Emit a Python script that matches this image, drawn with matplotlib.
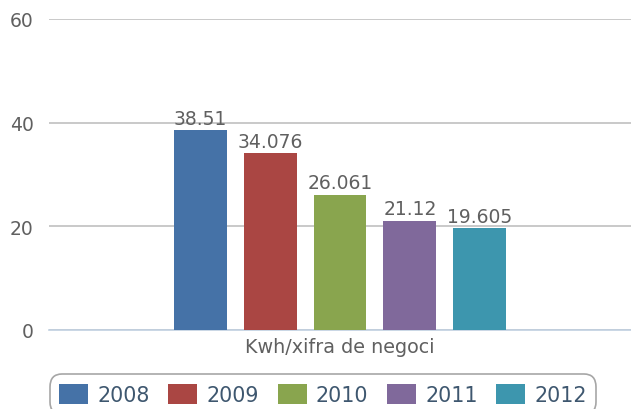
import matplotlib.pyplot as plt
from matplotlib.patches import Patch

plt.rcParams["font.family"] = ["DejaVu Sans"]

years = ["2008", "2009", "2010", "2011", "2012"]
values = [38.51, 34.076, 26.061, 21.12, 19.605]
colors = ["#4572A7", "#AA4643", "#89A54E", "#80699B", "#3D96AE"]
category = "Kwh/xifra de negoci"

fig = plt.figure(figsize=(6.31, 4.10), dpi=100)
ax = fig.add_axes([49 / 631, 1 - 331 / 410, 1 - 49 / 631, (331 - 20) / 410])

slot = 0.12
width = 0.091
n = len(years)
for i, (yr, v, c) in enumerate(zip(years, values, colors)):
    xpos = (i - (n - 1) / 2) * slot
    ax.bar(xpos, v, width=width, color=c, label=yr, zorder=3)
    ax.annotate(f"{v:g}", (xpos, v), xytext=(0, 2), textcoords="offset points",
                ha="center", va="bottom", fontsize=13.5, color="#606060", zorder=4)

ax.set_xlim(-0.5, 0.5)
ax.set_ylim(0, 60)
ax.set_yticks([0, 20, 40, 60])
ax.set_xticks([0])
ax.set_xticklabels([category])
ax.tick_params(axis="x", length=0, pad=5, labelsize=13.8, labelcolor="#606060")
ax.tick_params(axis="y", length=0, pad=11, labelsize=13.5, labelcolor="#606060")
ax.yaxis.grid(True, color="#C0C0C0", linewidth=1.2, zorder=0)

for side in ["top", "right", "left"]:
    ax.spines[side].set_visible(False)
ax.spines["bottom"].set_color("#C0D0E0")
ax.spines["bottom"].set_linewidth(1.2)
ax.spines["bottom"].set_zorder(2)

handles = [Patch(facecolor=c, edgecolor="none") for c in colors]
leg = fig.legend(handles, years, loc="upper center", bbox_to_anchor=(323 / 631, 1 - 365 / 410),
                 ncol=5, fontsize=14.9, frameon=True, fancybox=True, handlelength=1.4,
                 handleheight=1.1, columnspacing=0.9, handletextpad=0.45, borderpad=0.45)
frame = leg.get_frame()
frame.set_edgecolor("#909090")
frame.set_linewidth(1.2)
frame.set_boxstyle("round,pad=0,rounding_size=0.6")
for t in leg.get_texts():
    t.set_color("#3E576F")

fig.savefig("out.png", dpi=100)
